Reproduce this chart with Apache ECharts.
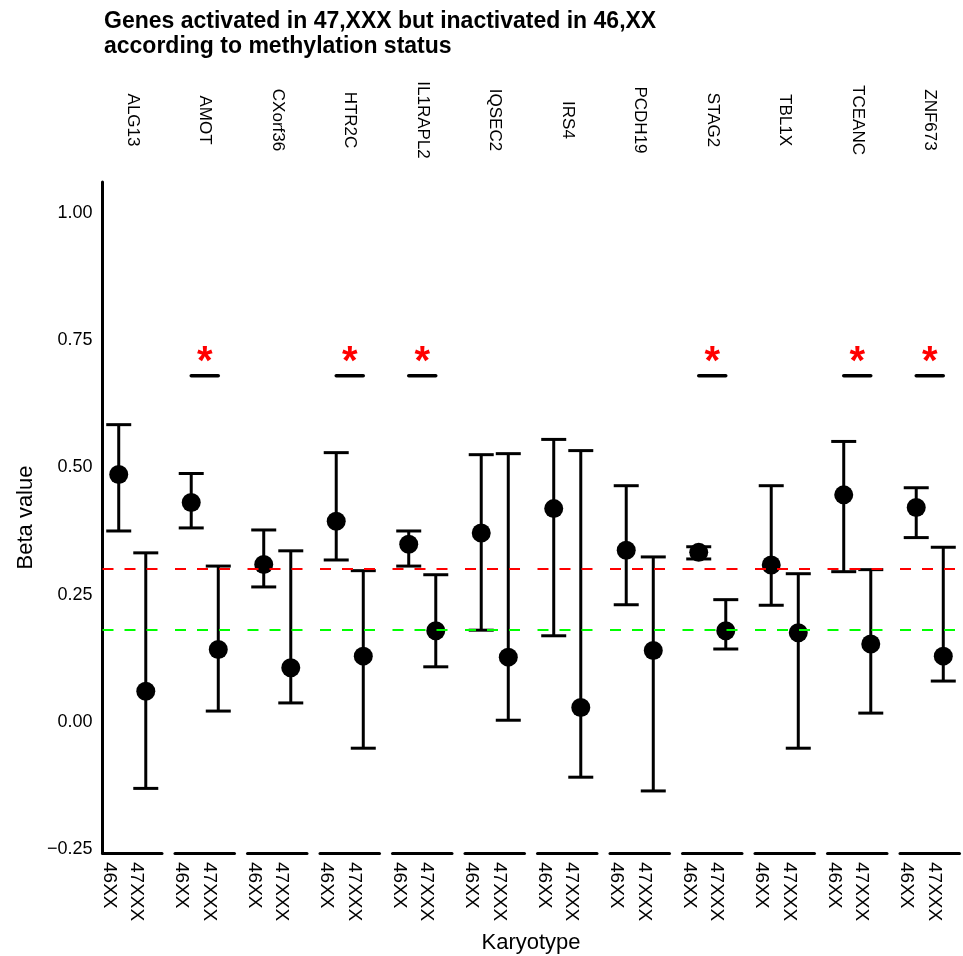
<!DOCTYPE html>
<html>
<head>
<meta charset="utf-8">
<script src="https://cdn.jsdelivr.net/npm/echarts@6/dist/echarts.min.js"></script>
<style>
html,body{margin:0;padding:0;background:#fff;}
#chart{width:963px;height:956px;}
</style>
</head>
<body>
<div id="chart"></div>
<script>
// ---- data ----
const genes = ['ALG13','AMOT','CXorf36','HTR2C','IL1RAPL2','IQSEC2','IRS4','PCDH19','STAG2','TBL1X','TCEANC','ZNF673'];
const karyotypes = ['46XX','47XXX'];
const mean46 = [0.486,0.431,0.309,0.394,0.349,0.371,0.419,0.337,0.333,0.308,0.446,0.421];
const low46  = [0.375,0.381,0.265,0.318,0.306,0.180,0.169,0.230,0.320,0.229,0.295,0.362];
const high46 = [0.584,0.488,0.377,0.529,0.375,0.525,0.555,0.464,0.344,0.464,0.551,0.460];
const mean47 = [0.060,0.142,0.106,0.129,0.179,0.127,0.028,0.140,0.179,0.175,0.153,0.129];
const low47  = [-0.131,0.021,0.037,-0.052,0.108,0.003,-0.109,-0.136,0.143,-0.052,0.017,0.080];
const high47 = [0.332,0.306,0.336,0.297,0.289,0.527,0.533,0.324,0.240,0.291,0.299,0.343];
const significant = [false,true,false,true,true,false,false,false,true,false,true,true];
const sigLevel = 0.68;
const sigLabel = '*';
const refLineValues = [0.30, 0.18];
const refLineColors = ['#FF0000', '#00FF00'];
const yTicks = [-0.25, 0, 0.25, 0.5, 0.75, 1.0];
const yTickLabels = ['\u22120.25','0.00','0.25','0.50','0.75','1.00'];

// ---- layout ----
const FONT = '"Liberation Sans", Arial, Helvetica, sans-serif';
const panelLeft0 = 102.5, panelStep = 72.5, panelWidth = 59.5;
const panelTop = 182, panelHeight = 671;
const yMin = -0.258, yMax = 1.061;
const xMin = 0.4, xMax = 2.6;

const grids = [], xAxes = [], yAxes = [], series = [], graphics = [];

function renderErrorBar(params, api) {
  const x = api.value(0), lo = api.value(1), hi = api.value(2);
  const pTop = api.coord([x, hi]);
  const pBot = api.coord([x, lo]);
  const hw = 12.5;
  const st = {stroke: '#000', lineWidth: 3};
  return {
    type: 'group',
    children: [
      {type: 'line', shape: {x1: pTop[0], y1: pTop[1], x2: pBot[0], y2: pBot[1]}, style: st},
      {type: 'line', shape: {x1: pTop[0] - hw, y1: pTop[1], x2: pTop[0] + hw, y2: pTop[1]}, style: st},
      {type: 'line', shape: {x1: pBot[0] - hw, y1: pBot[1], x2: pBot[0] + hw, y2: pBot[1]}, style: st}
    ]
  };
}

genes.forEach((g, i) => {
  const left = panelLeft0 + i * panelStep;
  grids.push({left: left, top: panelTop, width: panelWidth, height: panelHeight, containLabel: false});
  xAxes.push({
    type: 'value', gridIndex: i, min: xMin, max: xMax,
    axisLine: {show: true, onZero: false, lineStyle: {color: '#000', width: 3}},
    axisTick: {show: false},
    splitLine: {show: false},
    axisLabel: {
      show: true, customValues: [1, 2],
      formatter: v => karyotypes[Math.round(v) - 1],
      rotate: -90, margin: 9, verticalAlign: 'top',
      fontSize: 19, color: '#000', fontFamily: FONT
    }
  });
  const yAx = {
    type: 'value', gridIndex: i, min: yMin, max: yMax,
    splitLine: {show: false},
    axisTick: {show: false},
    axisLine: {show: i === 0, onZero: false, lineStyle: {color: '#000', width: 3}},
    axisLabel: {show: false}
  };
  if (i === 0) {
    yAx.axisLabel = {
      show: true, customValues: yTicks,
      formatter: v => yTickLabels[yTicks.findIndex(t => Math.abs(t - v) < 1e-9)],
      margin: 10, fontSize: 18, color: '#000', fontFamily: FONT
    };
    yAx.name = 'Beta value';
    yAx.nameLocation = 'middle';
    yAx.nameGap = 66;
    yAx.nameRotate = 90;
    yAx.nameTextStyle = {fontSize: 22, color: '#000', fontFamily: FONT};
  }
  yAxes.push(yAx);

  // error bars
  series.push({
    type: 'custom', xAxisIndex: i, yAxisIndex: i, z: 2,
    renderItem: renderErrorBar,
    encode: {x: 0, y: [1, 2]},
    data: [[1, low46[i], high46[i]], [2, low47[i], high47[i]]],
    silent: true
  });
  // mean points + reference lines
  series.push({
    type: 'scatter', xAxisIndex: i, yAxisIndex: i, z: 3,
    symbol: 'circle', symbolSize: 19,
    itemStyle: {color: '#000', opacity: 1},
    emphasis: {disabled: true},
    data: [[1, mean46[i]], [2, mean47[i]]],
    markLine: {
      silent: true, symbol: ['none', 'none'], label: {show: false},
      lineStyle: {type: [11, 11], width: 2},
      data: refLineValues.map((v, k) => ({yAxis: v, lineStyle: {color: refLineColors[k], type: [11, 11], width: 2, opacity: 1}}))
    }
  });
  if (significant[i]) {
    series.push({
      type: 'line', xAxisIndex: i, yAxisIndex: i, z: 3,
      symbol: 'none',
      lineStyle: {color: '#000', width: 3.5, cap: 'round'},
      data: [[1, sigLevel], [2, sigLevel]]
    });
    series.push({
      type: 'scatter', xAxisIndex: i, yAxisIndex: i, z: 4,
      symbolSize: 0,
      itemStyle: {opacity: 1},
      data: [[1.5, sigLevel]],
      label: {
        show: true, position: 'top', distance: -7, formatter: sigLabel,
        color: '#FF0000', opacity: 1, fontSize: 40, fontWeight: 'bold', fontFamily: FONT
      }
    });
  }
  graphics.push({
    type: 'text', x: left + panelWidth / 2, y: 120, rotation: -Math.PI / 2,
    style: {text: g, font: '17px ' + FONT, fill: '#000', textAlign: 'center', textVerticalAlign: 'middle'}
  });
});

graphics.push({
  type: 'text', x: panelLeft0 + (genes.length * panelStep - (panelStep - panelWidth)) / 2, y: 943,
  style: {text: 'Karyotype', font: '22px ' + FONT, fill: '#000', textAlign: 'center', textVerticalAlign: 'middle'}
});

const chart = echarts.init(document.getElementById('chart'), null, {renderer: 'canvas'});
chart.setOption({
  animation: false,
  backgroundColor: '#fff',
  title: {
    text: 'Genes activated in 47,XXX but inactivated in 46,XX\naccording to methylation status',
    left: 104, top: 9, padding: 0,
    textStyle: {fontSize: 23, fontWeight: 'bold', lineHeight: 25, color: '#000', fontFamily: FONT}
  },
  grid: grids,
  xAxis: xAxes,
  yAxis: yAxes,
  series: series,
  graphic: graphics
});
</script>
</body>
</html>
